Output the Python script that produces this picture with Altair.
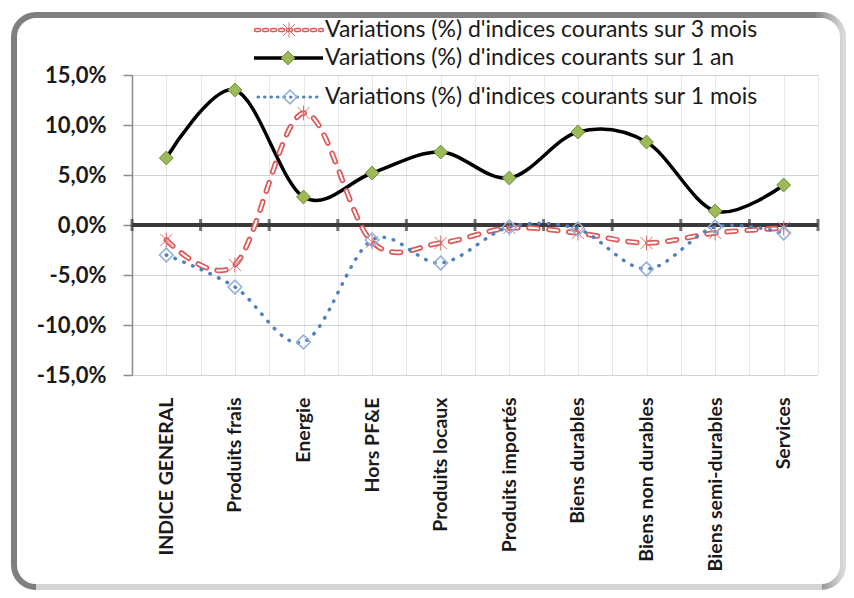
import json
import altair as alt
import pandas as pd

# ---------------- data ----------------
categories = [
    "INDICE GENERAL", "Produits frais", "Energie", "Hors PF&E", "Produits locaux",
    "Produits importés", "Biens durables", "Biens non durables",
    "Biens semi-durables", "Services",
]
var_3_mois = [-1.5, -4.0, 11.2, -1.7, -1.8, -0.3, -0.8, -1.8, -0.8, -0.3]
var_1_an = [6.7, 13.5, 2.8, 5.2, 7.3, 4.7, 9.3, 8.3, 1.4, 4.0]
var_1_mois = [-3.0, -6.2, -11.7, -1.5, -3.8, -0.2, -0.4, -4.4, -0.2, -0.8]
series_labels = [
    "Variations (%) d'indices courants sur 3 mois",
    "Variations (%) d'indices courants sur 1 an",
    "Variations (%) d'indices courants sur 1 mois",
]
y_ticks = [-15, -10, -5, 0, 5, 10, 15]

n = len(categories)
df = pd.DataFrame({"i": list(range(n)), "cat": categories,
                   "m3": var_3_mois, "a1": var_1_an, "m1": var_1_mois})
grid_pos = [k / 2 - 0.5 for k in range(2 * n + 1)]
bounds = pd.DataFrame({"b": [k - 0.5 for k in range(n + 1)]})

# ---------------- styles ----------------
FONT = "Lato"
RED = "#dc5a5a"
BLUE = "#4f81bd"
BLUE_LIGHT = "#8fb0d9"
GREEN = "#9bbb59"
STAR = "M-0.8,-0.8L0.8,0.8M-0.8,0.8L0.8,-0.8M0,-1L0,1"

x_label_expr = ("datum.value % 1 === 0 ? " + json.dumps(categories, ensure_ascii=False)
                + "[datum.value] : ''")
X_SCALE = alt.Scale(domain=[-0.5, n - 0.5], nice=False, zero=False)
Y_SCALE = alt.Scale(domain=[y_ticks[0], y_ticks[-1]], nice=False, zero=False)

x_axis = alt.Axis(values=grid_pos, labelExpr=x_label_expr, labelAngle=-90,
                  labelFont=FONT, labelFontWeight="bold", labelFontSize=19.5,
                  labelColor="#1a1a1a", labelPadding=22, labelOverlap=False,
                  labelFlush=False, ticks=False, domain=False, grid=True,
                  gridColor="#cfcfcf", gridDash=[1, 1], gridWidth=1, title="")
y_axis = alt.Axis(values=y_ticks,
                  labelExpr="replace((datum.value < 0 ? '-' : '') + format(abs(datum.value), '.1f'), '.', ',') + '%'",
                  labelFont=FONT, labelFontWeight="bold", labelFontSize=22,
                  labelColor="#1a1a1a", labelPadding=17, tickSize=9,
                  tickColor="#8c8c8c", tickWidth=1.5, domainColor="#8c8c8c",
                  domainWidth=1.5, grid=True, gridColor="#a6a6a6",
                  gridDash=[1, 1], gridWidth=1, title="")

X = alt.X("i:Q", scale=X_SCALE, axis=x_axis)


def Y(field):
    return alt.Y(field, type="quantitative", scale=Y_SCALE, axis=y_axis)


base = alt.Chart(df)

# ---------------- frame ----------------
frame_df = pd.DataFrame({"k": [0]})
frame = alt.Chart(frame_df).mark_rect(
    cornerRadius=22, fillOpacity=0, strokeWidth=6,
    stroke=alt.LinearGradient(gradient="linear", x1=0, y1=0, x2=1, y2=0, stops=[
        alt.GradientStop(color="#7f7f7f", offset=0),
        alt.GradientStop(color="#7f7f7f", offset=0.965),
        alt.GradientStop(color="#d9d9d9", offset=1),
    ]),
).encode(x=alt.value(-118), x2=alt.value(711), y=alt.value(-60), y2=alt.value(512))
frame_bottom = alt.Chart(frame_df).mark_rule(color="#d4d4d4", strokeWidth=6).encode(
    x=alt.value(-96), x2=alt.value(690), y=alt.value(512))

# ---------------- zero axis ----------------
zero_line = alt.Chart(bounds).mark_rule(color="#3a3a3a", strokeWidth=3).encode(
    y=alt.Y(datum=0, type="quantitative", scale=Y_SCALE, axis=y_axis))
zero_ticks = alt.Chart(bounds).mark_tick(
    orient="vertical", color="#3a3a3a", size=12, thickness=3).encode(
    x=alt.X("b:Q", scale=X_SCALE, axis=x_axis),
    y=alt.Y(datum=0, type="quantitative", scale=Y_SCALE, axis=y_axis))

# ---------------- series ----------------
red_outer = base.mark_line(interpolate="cardinal", color=RED, strokeWidth=5.5,
                           strokeDash=[9, 11], strokeCap="round").encode(x=X, y=Y("m3"))
red_inner = base.mark_line(interpolate="cardinal", color="white", strokeWidth=2,
                           strokeDash=[9, 11], strokeCap="round").encode(x=X, y=Y("m3"))
red_pts = base.mark_point(shape=STAR, filled=False, color="#e07070", strokeWidth=1,
                          size=225, opacity=1).encode(x=X, y=Y("m3"))

black_line = base.mark_line(interpolate="cardinal", color="black",
                            strokeWidth=3.5).encode(x=X, y=Y("a1"))
green_pts = base.mark_point(shape="diamond", filled=True, fill=GREEN,
                            stroke="#6e8a3a", strokeWidth=1, size=190,
                            opacity=1).encode(x=X, y=Y("a1"))

blue_line = base.mark_line(interpolate="cardinal", color=BLUE, strokeWidth=3.5,
                           strokeDash=[0.5, 9], strokeCap="round").encode(x=X, y=Y("m1"))
blue_pts = base.mark_point(shape="diamond", filled=False, color=BLUE_LIGHT,
                           strokeWidth=1.5, size=190, opacity=1).encode(x=X, y=Y("m1"))

# ---------------- legend ----------------
leg_y = [-45, -17, 22]
leg = []
for k, lab in enumerate(series_labels):
    ld = pd.DataFrame({"label": [lab]})
    c = alt.Chart(ld)
    yy = alt.value(leg_y[k])
    if k == 0:
        leg.append(c.mark_rule(color=RED, strokeWidth=4.5, strokeDash=[3, 5], strokeCap="round")
                   .encode(x=alt.value(124), x2=alt.value(190), y=yy))
        leg.append(c.mark_rule(color="white", strokeWidth=1.5, strokeDash=[3, 5], strokeCap="round")
                   .encode(x=alt.value(124), x2=alt.value(190), y=yy))
        leg.append(c.mark_point(shape=STAR, filled=False, color="#e07070", strokeWidth=1,
                                size=225, opacity=1).encode(x=alt.value(157), y=yy))
    elif k == 1:
        leg.append(c.mark_rule(color="black", strokeWidth=3.5)
                   .encode(x=alt.value(122), x2=alt.value(191), y=yy))
        leg.append(c.mark_point(shape="diamond", filled=True, fill=GREEN, stroke="#6e8a3a",
                                strokeWidth=1, size=190, opacity=1)
                   .encode(x=alt.value(156), y=yy))
    else:
        leg.append(c.mark_rule(color=BLUE, strokeWidth=3, strokeDash=[0.5, 6], strokeCap="round")
                   .encode(x=alt.value(126), x2=alt.value(190), y=yy))
        leg.append(c.mark_point(shape="diamond", filled=False, color=BLUE_LIGHT,
                                strokeWidth=1.5, size=190, opacity=1)
                   .encode(x=alt.value(158), y=yy))
    leg.append(c.mark_text(align="left", baseline="middle", font=FONT, fontSize=23,
                           color="#1a1a1a").encode(text="label:N", x=alt.value(193), y=yy))

chart = alt.layer(
    black_line, zero_line, zero_ticks, frame, frame_bottom,
    red_outer, red_inner, red_pts,
    green_pts,
    blue_line, blue_pts,
    *leg,
).properties(
    width=686, height=300,
    padding={"left": 124, "top": 67, "right": 28, "bottom": 215},
    autosize=alt.AutoSizeParams(type="none"),
    background="white",
).configure_view(stroke=None)

chart.save("out.html", embed_options={"renderer": "svg", "actions": False})
